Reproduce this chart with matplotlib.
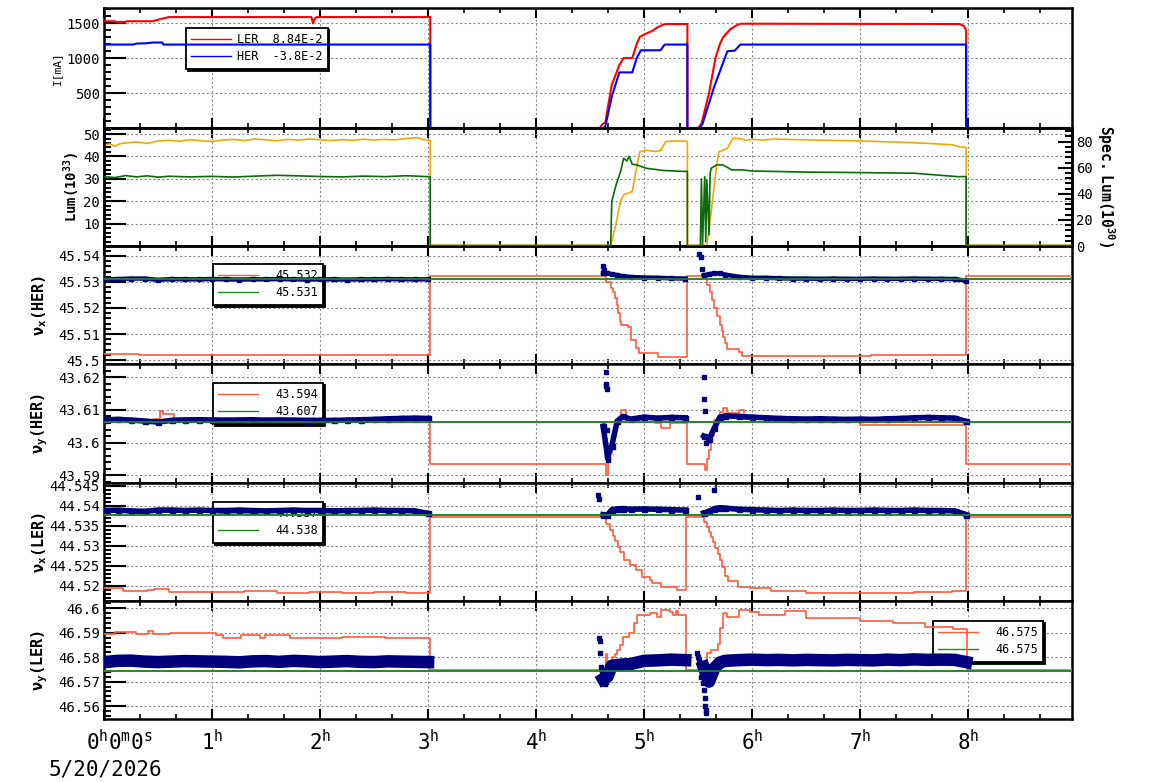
import numpy as np
import matplotlib
matplotlib.use('Agg')
import matplotlib.pyplot as plt
from matplotlib.ticker import AutoMinorLocator, FixedLocator, FuncFormatter

plt.rcParams['font.family'] = 'DejaVu Sans Mono'
plt.rcParams['mathtext.fontset'] = 'custom'
plt.rcParams['mathtext.rm'] = 'DejaVu Sans Mono'
plt.rcParams['mathtext.it'] = 'DejaVu Sans Mono'
plt.rcParams['mathtext.bf'] = 'DejaVu Sans Mono:bold'

# ---- data (time in hours) ----
# beam currents [mA]
ler_cur = [(0, 1530), (0.10, 1530), (0.11, 1520), (0.20, 1520), (0.21, 1530), (0.45, 1530), (0.52, 1560),
           (0.60, 1590), (1.92, 1590), (1.935, 1500), (1.95, 1570), (1.97, 1590), (3.02, 1590), (3.02, 0),
           (4.59, 0), (4.61, 50), (4.64, 80), (4.70, 620), (4.77, 900), (4.81, 1004), (4.89, 1004),
           (4.93, 1200), (4.96, 1307), (5.00, 1340), (5.07, 1388), (5.12, 1440), (5.18, 1484), (5.22, 1490),
           (5.40, 1490), (5.40, 0), (5.50, 0), (5.53, 60), (5.60, 500), (5.66, 1004), (5.70, 1200),
           (5.73, 1300), (5.80, 1420), (5.87, 1484), (5.90, 1495), (7.92, 1490), (7.96, 1460), (7.98, 1400),
           (7.98, 0), (8.96, 0)]
her_cur = [(0, 1196), (0.27, 1196), (0.30, 1210), (0.40, 1215), (0.45, 1225), (0.54, 1225), (0.55, 1196),
           (3.02, 1196), (3.02, 0), (4.62, 0), (4.64, 20), (4.70, 450), (4.77, 797), (4.89, 797),
           (4.93, 1000), (4.97, 1114), (5.15, 1114), (5.19, 1196), (5.40, 1196), (5.40, 0), (5.51, 0),
           (5.54, 60), (5.65, 600), (5.77, 1100), (5.84, 1110), (5.89, 1196), (7.98, 1196), (7.98, 0), (8.96, 0)]

# luminosity (10^33) and specific luminosity (10^30)
lum = [(0, 45.2), (0.05, 45.6), (0.1, 44.6), (0.15, 45.7), (0.2, 46.0), (0.3, 46.5), (0.4, 45.8), (0.5, 46.9),
       (0.6, 47.2), (0.7, 46.8), (0.8, 47.5), (0.9, 47.0), (1.0, 46.7), (1.1, 47.3), (1.2, 47.6), (1.3, 47.1),
       (1.4, 47.8), (1.5, 47.4), (1.6, 47.0), (1.7, 47.6), (1.8, 47.3), (1.9, 47.8), (2.0, 47.4), (2.1, 47.1),
       (2.2, 47.5), (2.3, 47.2), (2.4, 47.7), (2.5, 47.3), (2.6, 47.6), (2.7, 47.4), (2.8, 48.0), (2.9, 48.4),
       (2.95, 47.6), (3.0, 47.2), (3.02, 47.0), (3.02, 0.3), (4.69, 0.3), (4.74, 10), (4.78, 20), (4.81, 22.9),
       (4.85, 23.5), (4.89, 24.4), (4.93, 35), (4.96, 42.1), (5.02, 42.8), (5.10, 42.2), (5.15, 42.6),
       (5.20, 46.6), (5.30, 47.0), (5.36, 46.8), (5.40, 46.8), (5.40, 0.3), (5.58, 0.3), (5.62, 15),
       (5.66, 32), (5.69, 42), (5.73, 42.8), (5.77, 43.6), (5.82, 48.1), (5.88, 48.0), (5.94, 47.2),
       (6.0, 47.6), (6.1, 47.3), (6.2, 47.8), (6.4, 47.5), (6.6, 47.3), (6.8, 47.1), (7.0, 46.9), (7.2, 46.6),
       (7.4, 46.3), (7.6, 45.9), (7.75, 45.5), (7.85, 45.2), (7.92, 44.3), (7.98, 44.0), (7.98, 0.3), (8.96, 0.3)]
spec_lum = [(0, 53.2), (0.1, 52.5), (0.2, 54.0), (0.3, 53.0), (0.4, 53.8), (0.5, 52.8), (0.6, 53.5),
            (0.8, 53.0), (1.0, 53.4), (1.2, 52.9), (1.4, 53.6), (1.6, 54.2), (1.8, 53.8), (2.0, 53.3),
            (2.2, 53.0), (2.4, 53.6), (2.6, 53.2), (2.8, 53.9), (3.0, 53.2), (3.02, 53.0), (3.02, 0.3),
            (4.69, 0.3), (4.70, 34.2), (4.74, 46.9), (4.78, 56.7), (4.81, 67.3), (4.84, 65.2), (4.86, 68.7),
            (4.89, 62.7), (4.93, 62.2), (5.02, 59.6), (5.18, 57.9), (5.38, 57.2), (5.40, 57.2), (5.40, 0.3),
            (5.52, 0.3), (5.53, 51.5), (5.54, 0.3), (5.56, 53.2), (5.57, 3.4), (5.58, 50.8), (5.60, 8.6),
            (5.61, 55.0), (5.62, 59.6), (5.67, 62.2), (5.73, 62.2), (5.81, 58.4), (5.9, 58.4), (6.0, 57.5),
            (6.5, 56.7), (7.0, 56.3), (7.5, 55.8), (7.9, 53.2), (7.98, 53.2), (7.98, 0.3), (8.96, 0.3)]

# tune measurement times (three running periods)
t_a = [0.0, 0.125, 0.25, 0.375, 0.5, 0.625, 0.75, 0.875, 1.0, 1.125, 1.25, 1.375, 1.5, 1.625, 1.75,
       1.875, 2.0, 2.125, 2.25, 2.375, 2.5, 2.625, 2.75, 2.875, 3.0]
t_b = [4.62, 4.66, 4.70, 4.75, 4.8, 4.875, 5.0, 5.125, 5.25, 5.38]
t_c = [5.55, 5.6, 5.65, 5.7, 5.75, 5.875, 6.0, 6.125, 6.25, 6.375, 6.5, 6.625, 6.75, 6.875, 7.0, 7.125,
       7.25, 7.375, 7.5, 7.625, 7.75, 7.875, 7.98]

# nu_x HER
nxh_a = [45.5310, 45.5311, 45.5313, 45.5313, 45.5308, 45.5311, 45.5310, 45.5310, 45.5311, 45.5310, 45.5309,
         45.5310, 45.5310, 45.5311, 45.5310, 45.5309, 45.5310, 45.5310, 45.5309, 45.5310, 45.5310, 45.5311,
         45.5310, 45.5310, 45.5310]
nxh_b = [45.5335, 45.5333, 45.5330, 45.5326, 45.5322, 45.5319, 45.5317, 45.5316, 45.5314, 45.5313]
nxh_c = [45.5325, 45.5330, 45.5333, 45.5333, 45.5328, 45.5320, 45.5316, 45.5316, 45.5314, 45.5313, 45.5313,
         45.5312, 45.5313, 45.5312, 45.5312, 45.5313, 45.5312, 45.5312, 45.5313, 45.5312, 45.5312, 45.5311,
         45.5305]
nxh_out = [(4.62, 45.5361), (4.625, 45.5345), (5.51, 45.5406), (5.53, 45.5394), (5.535, 45.5350)]
nxh_set = [(0, 45.5022), (0.32, 45.5020), (0.45, 45.5018), (0.54, 45.5021), (3.02, 45.5322), (4.65, 45.5300),
           (4.69, 45.5276), (4.71, 45.5260), (4.73, 45.5238), (4.75, 45.5210), (4.76, 45.5180), (4.78, 45.5150),
           (4.79, 45.5133), (4.85, 45.5128), (4.88, 45.5077), (4.92, 45.5045), (4.95, 45.5028), (5.13, 45.5010),
           (5.40, 45.5322), (5.58, 45.5290), (5.61, 45.5260), (5.63, 45.5230), (5.65, 45.5200), (5.67, 45.5170),
           (5.70, 45.5135), (5.72, 45.5110), (5.73, 45.5090), (5.75, 45.5065), (5.77, 45.5042), (5.88, 45.5030),
           (5.91, 45.5015), (7.1, 45.5020), (7.98, 45.5322), (8.96, 45.5322)]
nxh_ref = 45.5312

# nu_y HER
nyh_a = [43.6070, 43.6071, 43.6069, 43.6066, 43.6063, 43.6068, 43.6069, 43.6070, 43.6069, 43.6068, 43.6069,
         43.6070, 43.6068, 43.6069, 43.6068, 43.6067, 43.6068, 43.6068, 43.6069, 43.6070, 43.6071, 43.6073,
         43.6074, 43.6075, 43.6074]
nyh_b = [43.6050, 43.5960, 43.5990, 43.6065, 43.6080, 43.6072, 43.6078, 43.6075, 43.6077, 43.6076]
nyh_c = [43.6020, 43.6010, 43.6045, 43.6078, 43.6082, 43.6080, 43.6078, 43.6076, 43.6074, 43.6073, 43.6072,
         43.6073, 43.6072, 43.6071, 43.6072, 43.6071, 43.6073, 43.6074, 43.6076, 43.6077, 43.6076, 43.6075,
         43.6065]
nyh_out = [(4.645, 43.6216), (4.648, 43.6180), (4.65, 43.6175), (4.652, 43.6163), (4.655, 43.6040),
           (4.66, 43.5960), (4.665, 43.5947), (5.55, 43.6202), (5.555, 43.6135), (5.56, 43.6097), (5.57, 43.6000)]
nyh_set = [(0, 43.6069), (0.46, 43.6071), (0.52, 43.6097), (0.55, 43.6088), (0.65, 43.6074), (1.95, 43.6066),
           (2.75, 43.6072), (2.95, 43.6075), (3.02, 43.5933), (4.65, 43.5900), (4.665, 43.5940), (4.68, 43.5966),
           (4.70, 43.6000), (4.72, 43.6038), (4.74, 43.6060), (4.76, 43.6074), (4.79, 43.6100), (4.83, 43.6066),
           (4.87, 43.6072), (4.93, 43.6068), (4.96, 43.6080), (5.01, 43.6072), (5.10, 43.6059), (5.16, 43.6044),
           (5.24, 43.6059), (5.40, 43.5933), (5.565, 43.5915), (5.58, 43.5950), (5.60, 43.5977), (5.62, 43.6020),
           (5.65, 43.6070), (5.70, 43.6095), (5.73, 43.6105), (5.77, 43.6090), (5.88, 43.6100), (5.92, 43.6072),
           (5.99, 43.6063), (7.0, 43.6055), (7.98, 43.5933), (8.96, 43.5933)]
nyh_ref = 43.6063

# nu_x LER
nxl_a = [44.5388, 44.5389, 44.5387, 44.5386, 44.5389, 44.5389, 44.5388, 44.5389, 44.5388, 44.5388, 44.5389,
         44.5388, 44.5387, 44.5388, 44.5389, 44.5388, 44.5388, 44.5387, 44.5388, 44.5388, 44.5389, 44.5388,
         44.5388, 44.5387, 44.5381]
nxl_b = [44.5378, 44.5377, 44.5390, 44.5392, 44.5393, 44.5391, 44.5392, 44.5391, 44.5390, 44.5389]
nxl_c = [44.5382, 44.5386, 44.5393, 44.5395, 44.5394, 44.5391, 44.5390, 44.5389, 44.5388, 44.5389, 44.5388,
         44.5388, 44.5389, 44.5388, 44.5388, 44.5389, 44.5388, 44.5388, 44.5389, 44.5388, 44.5388, 44.5387,
         44.5378]
nxl_out = [(4.575, 44.5427), (4.578, 44.5416), (5.50, 44.5421), (5.65, 44.5439)]
nxl_set = [(0, 44.5194), (0.18, 44.5187), (0.4, 44.5190), (0.46, 44.5191), (0.6, 44.5185), (1.0, 44.5184),
           (1.3, 44.5186), (1.6, 44.5183), (1.9, 44.5185), (2.2, 44.5183), (2.5, 44.5184), (2.8, 44.5182),
           (3.02, 44.5373), (4.65, 44.5355), (4.685, 44.5340), (4.71, 44.5325), (4.73, 44.5311), (4.755, 44.5298),
           (4.78, 44.5285), (4.81, 44.5265), (4.87, 44.5252), (4.92, 44.5240), (4.98, 44.5223), (5.05, 44.5215),
           (5.07, 44.5208), (5.16, 44.5197), (5.30, 44.5190), (5.39, 44.5373), (5.55, 44.5360), (5.58, 44.5348),
           (5.60, 44.5335), (5.62, 44.5322), (5.64, 44.5310), (5.66, 44.5295), (5.68, 44.5280), (5.70, 44.5265),
           (5.72, 44.5248), (5.75, 44.5225), (5.78, 44.5212), (5.87, 44.5198), (5.98, 44.5194), (6.17, 44.5188),
           (6.5, 44.5183), (7.0, 44.5182), (7.5, 44.5184), (7.85, 44.5186), (7.98, 44.5373), (8.96, 44.5373)]
nxl_ref = 44.5378

# nu_y LER
nyl_a = [46.5780, 46.5785, 46.5786, 46.5782, 46.5780, 46.5782, 46.5784, 46.5783, 46.5782, 46.5781, 46.5779,
         46.5783, 46.5784, 46.5781, 46.5785, 46.5783, 46.5780, 46.5782, 46.5784, 46.5781, 46.5780, 46.5783,
         46.5782, 46.5781, 46.5780]
nyl_b = [46.5710, 46.5720, 46.5765, 46.5768, 46.5770, 46.5772, 46.5785, 46.5787, 46.5790, 46.5788]
nyl_c = [46.5760, 46.5700, 46.5755, 46.5778, 46.5785, 46.5788, 46.5790, 46.5788, 46.5789, 46.5787, 46.5789,
         46.5788, 46.5787, 46.5789, 46.5788, 46.5787, 46.5790, 46.5788, 46.5791, 46.5789, 46.5790, 46.5789,
         46.5780]
nyl_out = [(4.585, 46.5878), (4.59, 46.5865), (4.595, 46.5818), (4.60, 46.5760), (4.605, 46.5740),
           (4.61, 46.5725), (4.625, 46.5706), (4.64, 46.5690), (4.65, 46.5700), (5.49, 46.5817), (5.50, 46.5800),
           (5.51, 46.5790), (5.52, 46.5765), (5.53, 46.5720), (5.54, 46.5695), (5.55, 46.5667), (5.56, 46.5632),
           (5.565, 46.5600), (5.57, 46.5584), (5.575, 46.5570)]
nyl_set = [(0, 46.5893), (0.1, 46.5902), (0.3, 46.5895), (0.41, 46.5907), (0.45, 46.5895), (0.61, 46.5900),
           (1.04, 46.5890), (1.1, 46.5878), (1.27, 46.5890), (1.44, 46.5878), (1.49, 46.5890), (1.72, 46.5880),
           (2.2, 46.5882), (2.6, 46.5880), (3.02, 46.5749), (4.65, 46.5812), (4.66, 46.5780), (4.70, 46.5800),
           (4.73, 46.5812), (4.75, 46.5830), (4.78, 46.5850), (4.80, 46.5884), (4.86, 46.5900), (4.91, 46.5939),
           (4.93, 46.5973), (5.05, 46.5980), (5.12, 46.5966), (5.16, 46.5993), (5.24, 46.5987), (5.27, 46.5973),
           (5.29, 46.5990), (5.31, 46.5973), (5.39, 46.5749), (5.55, 46.5729), (5.58, 46.5818), (5.62, 46.5828),
           (5.68, 46.5855), (5.70, 46.5918), (5.73, 46.5980), (5.77, 46.5966), (5.88, 46.5993), (5.98, 46.5987),
           (6.06, 46.5973), (6.3, 46.5990), (6.5, 46.5962), (7.0, 46.5950), (7.3, 46.5940), (7.6, 46.5925),
           (7.86, 46.5914), (7.99, 46.5747), (8.96, 46.5747)]
nyl_ref = 46.5745

hour_ticks = [1, 2, 3, 4, 5, 6, 7, 8]

# ---- style ----
C_LER, C_HER = '#ff0000', '#0000ff'
C_LUM, C_SPEC = '#f2a900', '#0b6b0b'
C_SET, C_REF, C_MEAS = '#ff5a3c', '#1e8c1e', '#00007f'

W, H = 1154, 782
fig = plt.figure(figsize=(W / 100, H / 100), dpi=100)
edges = [8, 128, 246, 364, 483, 601, 719]
axes = []
for i in range(6):
    r = [104 / W, 1 - edges[i + 1] / H, (1072 - 104) / W, (edges[i + 1] - edges[i]) / H]
    a = fig.add_axes(r, sharex=axes[0] if axes else None)
    axes.append(a)

fmt = FuncFormatter(lambda v, p: ('%.4f' % v).rstrip('0').rstrip('.'))


def style(ax, ylim, yt):
    ax.set_xlim(0, 8.96)
    ax.set_ylim(*ylim)
    ax.yaxis.set_major_locator(FixedLocator(yt))
    ax.yaxis.set_major_formatter(fmt)
    ax.yaxis.set_minor_locator(AutoMinorLocator(5))
    ax.xaxis.set_major_locator(FixedLocator(list(range(0, 9))))
    ax.xaxis.set_minor_locator(AutoMinorLocator(3))
    ax.tick_params(axis='y', which='major', direction='in', length=16, width=1.5, labelsize=10, pad=3)
    ax.tick_params(axis='y', which='minor', direction='in', length=5, width=1.5)
    ax.tick_params(axis='x', which='major', direction='in', length=7, width=1.5, top=True, labelbottom=False)
    ax.tick_params(axis='x', which='minor', direction='in', length=3.5, width=1.2, top=True)
    ax.grid(True, which='major', color='#8c8c8c', ls=(0, (2, 2)), lw=0.8)
    ax.set_axisbelow(True)
    for s in ax.spines.values():
        s.set_linewidth(1.8)


def xy(pairs):
    return [p[0] for p in pairs], [p[1] for p in pairs]


def legend(ax, handles, labels, x, y, textpad=1.4):
    leg = ax.legend(handles, labels, loc='upper left', bbox_to_anchor=(x / W, 1 - y / H),
                    bbox_transform=fig.transFigure, fontsize=8.5, handlelength=3.4, handletextpad=textpad,
                    borderpad=0.45, labelspacing=0.35, borderaxespad=0, fancybox=False, framealpha=1,
                    edgecolor='black', shadow={'color': 'black', 'alpha': 1, 'ox': 1.3, 'oy': -1.3})
    leg.get_frame().set_linewidth(1.3)
    leg.set_zorder(1.5)
    for h in leg.legend_handles:
        h.set_linewidth(1)
    return leg


# panel 1: currents
ax = axes[0]
style(ax, (0, 1720), [500, 1000, 1500])
l1, = ax.plot(*xy(ler_cur), color=C_LER, lw=1.5, zorder=3)
l2, = ax.plot(*xy(her_cur), color=C_HER, lw=1.5, zorder=3)
legend(ax, [l1, l2], ['LER  8.84E-2', 'HER  -3.8E-2'], 186, 28, textpad=0.45)

# panel 2: luminosity
ax = axes[1]
style(ax, (0, 52.7), [10, 20, 30, 40, 50])
ax.plot(*xy(lum), color=C_LUM, lw=1.2, zorder=3)
ax2 = ax.twinx()
ax2.set_ylim(0, 90.5)
ax2.yaxis.set_major_locator(FixedLocator([0, 20, 40, 60, 80]))
ax2.yaxis.set_minor_locator(AutoMinorLocator(5))
ax2.tick_params(axis='y', which='major', direction='in', length=10, width=1.5, labelsize=10, pad=3)
ax2.tick_params(axis='y', which='minor', direction='in', length=5, width=1.5)
ax2.plot(*xy(spec_lum), color=C_SPEC, lw=1.2, zorder=3)
ax2.patch.set_visible(False)
for s in ax2.spines.values():
    s.set_linewidth(1.8)

# tune panels
tune_panels = [
    (axes[2], (45.4985, 45.5438), [45.5, 45.51, 45.52, 45.53, 45.54], nxh_a, nxh_b, nxh_c, nxh_out, nxh_set,
     nxh_ref, ['45.532', '45.531'], (213, 264), 3.2),
    (axes[3], (43.5876, 43.6241), [43.59, 43.6, 43.61, 43.62], nyh_a, nyh_b, nyh_c, nyh_out, nyh_set,
     nyh_ref, ['43.594', '43.607'], (213, 383), 4.0),
    (axes[4], (44.51618, 44.54568), [44.52, 44.525, 44.53, 44.535, 44.54, 44.545], nxl_a, nxl_b, nxl_c,
     nxl_out, nxl_set, nxl_ref, ['44.537', '44.538'], (213, 502), 4.0),
    (axes[5], (46.5547, 46.603), [46.56, 46.57, 46.58, 46.59, 46.6], nyl_a, nyl_b, nyl_c, nyl_out, nyl_set,
     nyl_ref, ['46.575', '46.575'], (933, 621), 9.0),
]
for ax, yl, yt, va, vb, vc, out, setp, ref, labs, lpos, blw in tune_panels:
    style(ax, yl, yt)
    st, sv = xy(setp)
    hs, = ax.plot(st, sv, drawstyle='steps-post', color=C_SET, lw=1.2, zorder=3)
    hr = ax.axhline(ref, color=C_REF, lw=1.2, zorder=3)
    for tt, vv in ((t_a, va), (t_b, vb), (t_c, vc)):
        ax.plot(tt, vv, color=C_MEAS, lw=blw, marker='s', ms=min(blw * 0.9, 5), zorder=4)
    ot, ov = xy(out)
    ax.plot(ot, ov, 's', color=C_MEAS, ms=3.5, zorder=4)
    ax.axhline(ref, color=C_REF, lw=1.2, zorder=5)
    legend(ax, [hs, hr], labs, *lpos)

# x axis labels on bottom panel
ax = axes[5]
ax.xaxis.set_major_locator(FixedLocator(hour_ticks))
ax.set_xticklabels(['$%d^{h}$' % h for h in hour_ticks])
ax.tick_params(axis='x', which='major', labelbottom=True, labelsize=15, pad=7)
ax.annotate('$0^{h}0^{m}0^{s}$', xy=(0, 0), xycoords=('data', 'axes fraction'), xytext=(-13, -7),
            textcoords='offset points', ha='left', va='top', fontsize=15, annotation_clip=False)
ax.annotate('5/20/2026', xy=(0, 0), xycoords=('data', 'axes fraction'), xytext=(-40, -29),
            textcoords='offset points', ha='left', va='top', fontsize=15, annotation_clip=False)
for a in axes[:5]:
    a.xaxis.set_major_locator(FixedLocator(list(range(0, 9))))

# y labels
fig.text(57 / W, 1 - 68 / H, 'I[mA]', rotation=90, ha='center', va='center', fontsize=8)
fig.text(72 / W, 1 - 187 / H, r'$\mathbf{Lum(10^{33})}$', rotation=90, ha='center', va='center', fontsize=10)
fig.text(1106 / W, 1 - 186 / H, r'$\mathbf{Spec.\ Lum(10^{30})}$', rotation=-90, ha='center', va='center',
         fontsize=10.5)
for yc, lab in ((305, r'$\mathbf{\nu_{x}(HER)}$'), (423.5, r'$\mathbf{\nu_{y}(HER)}$'),
                (542, r'$\mathbf{\nu_{x}(LER)}$'), (660, r'$\mathbf{\nu_{y}(LER)}$')):
    fig.text(40 / W, 1 - yc / H, lab, rotation=90, ha='center', va='center', fontsize=11)

fig.savefig('out.png', dpi=100)
